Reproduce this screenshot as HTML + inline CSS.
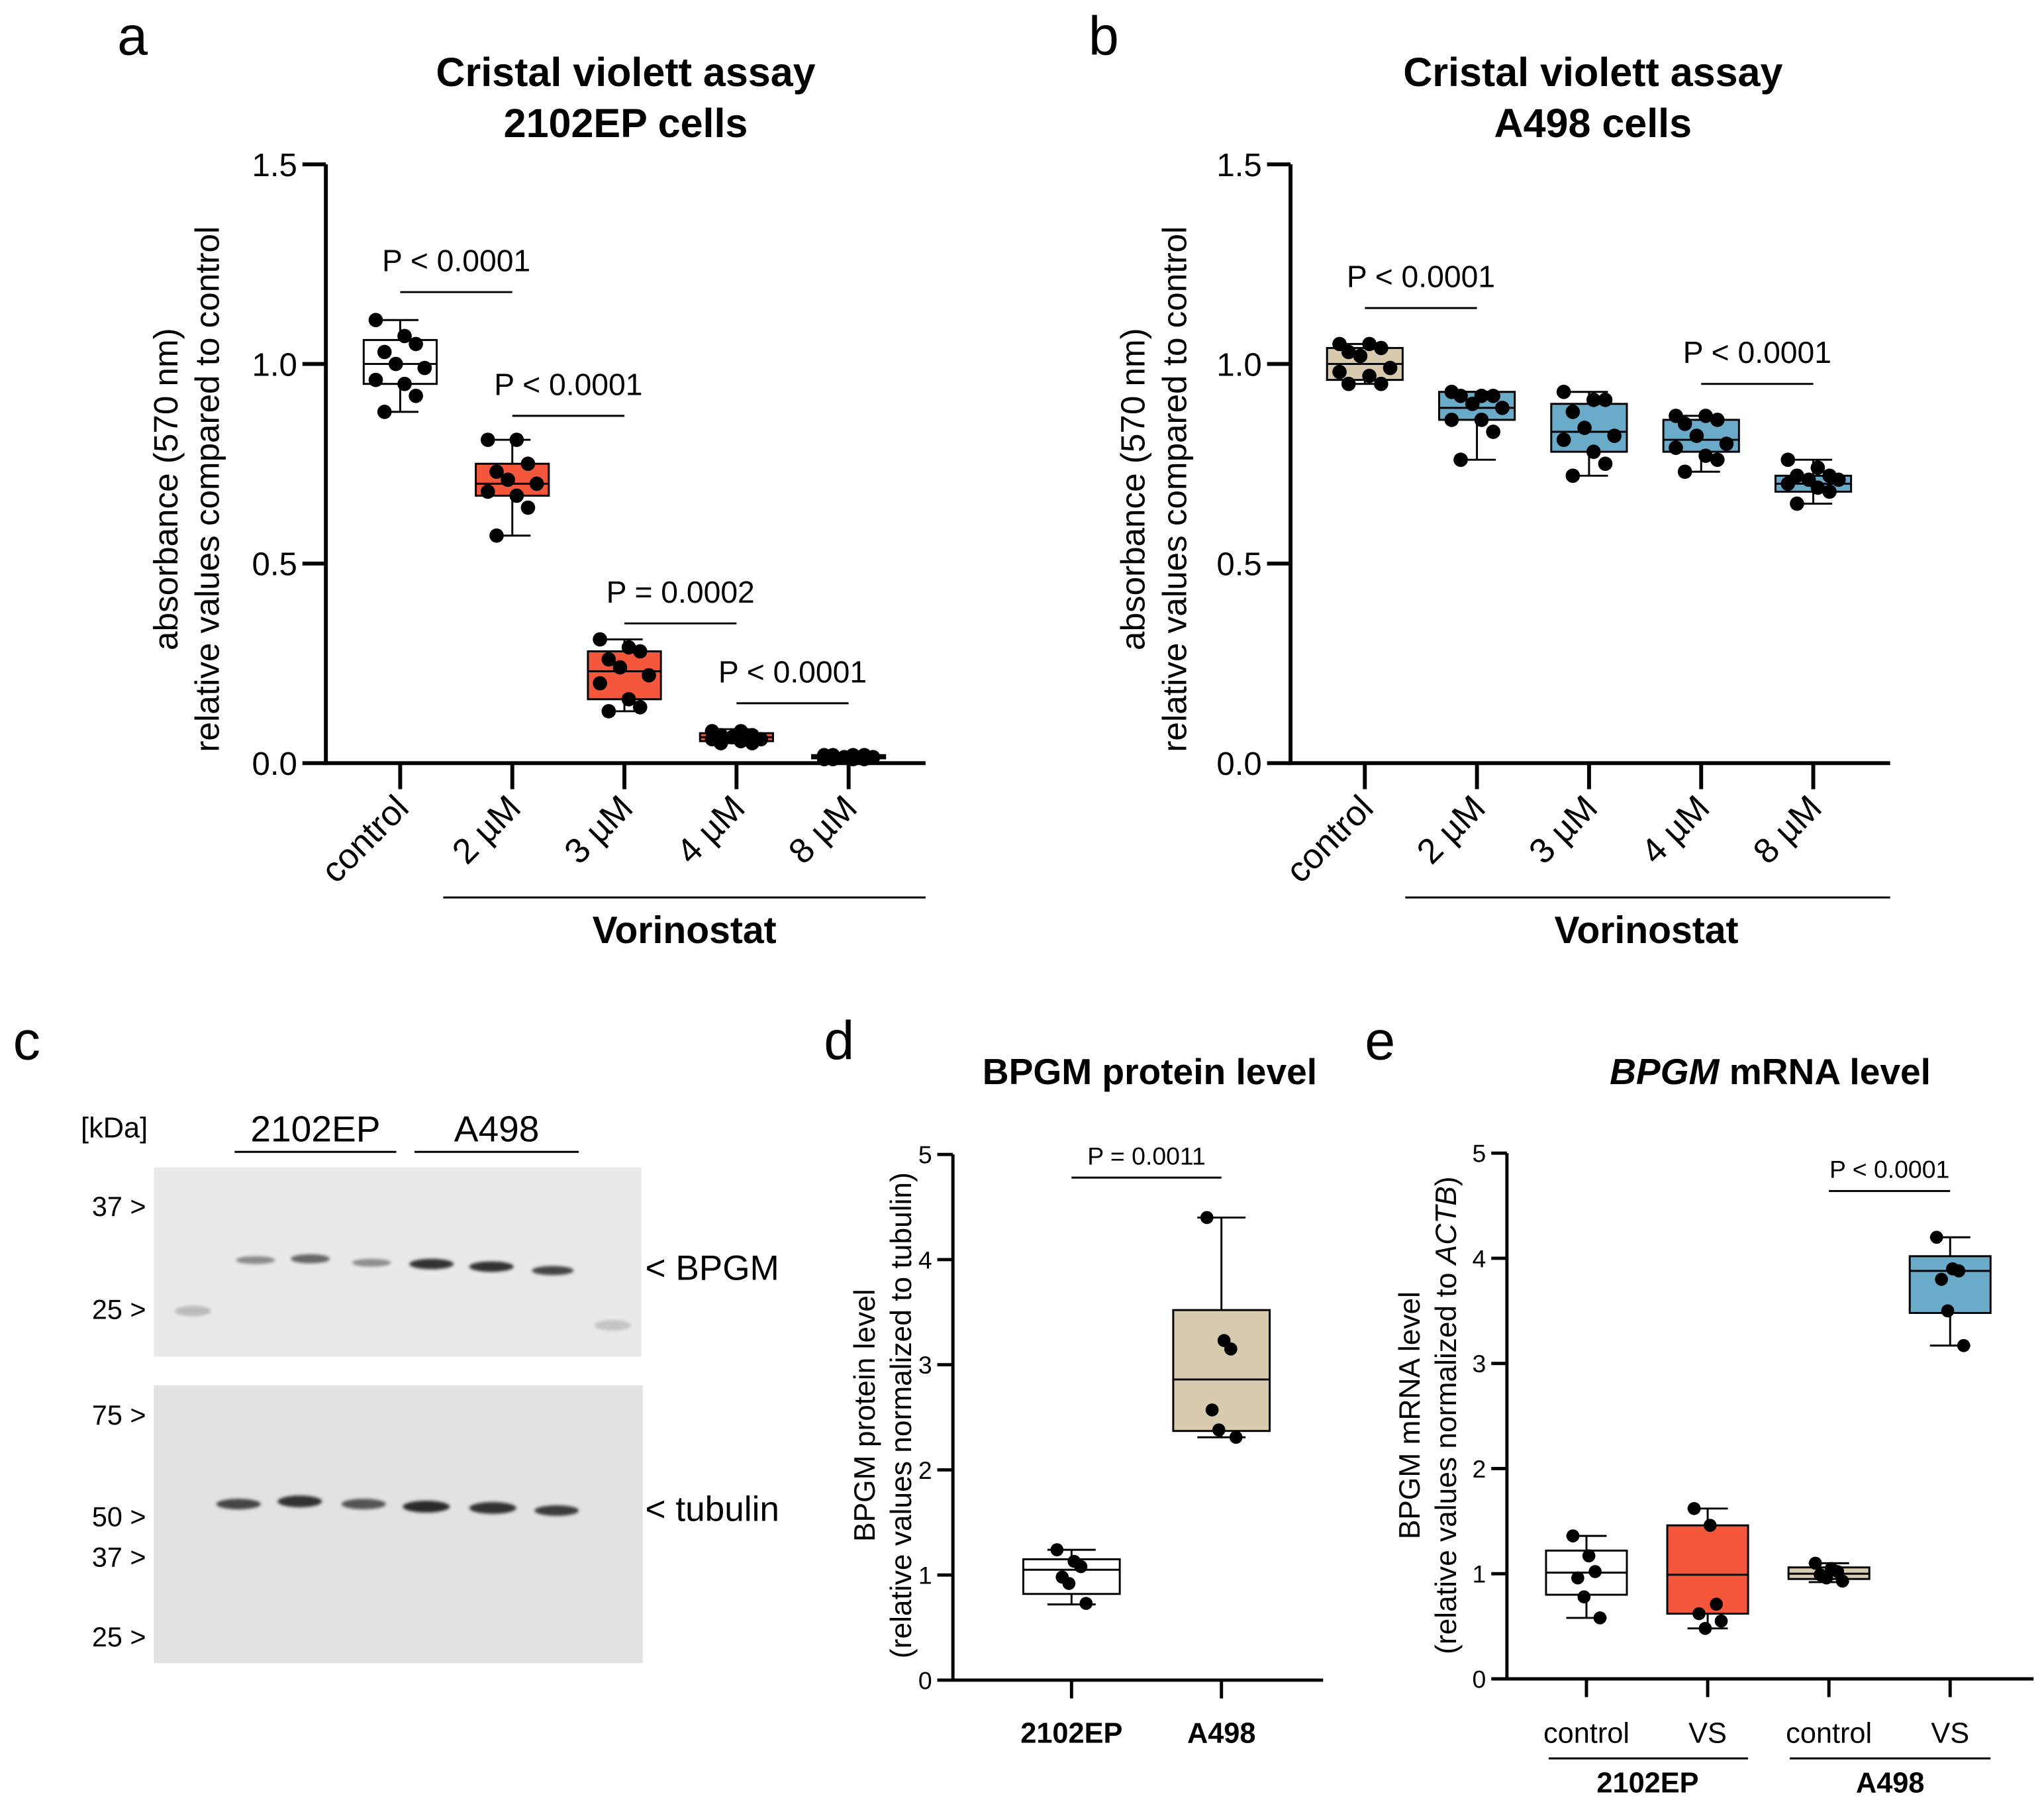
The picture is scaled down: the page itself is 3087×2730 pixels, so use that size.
<!DOCTYPE html>
<html><head><meta charset="utf-8"><style>
html,body{margin:0;padding:0;background:#fff;}
svg{display:block;font-family:"Liberation Sans",Arial,sans-serif;}
</style></head><body>
<svg id="fig" width="3087" height="2730" viewBox="0 0 1568 1386" preserveAspectRatio="none" xmlns="http://www.w3.org/2000/svg">
<rect width="1568" height="1386" fill="#fff"/>
<g id="static" font-family="Liberation Sans, Arial, sans-serif">
<text x="90" y="42" font-size="42">a</text>
<text x="835" y="42" font-size="42">b</text>
<text x="10" y="812" font-size="42">c</text>
<text x="632" y="812" font-size="42">d</text>
<text x="1047" y="812" font-size="42">e</text>
<g font-weight="bold" font-size="31" text-anchor="middle"><text x="480" y="66">Cristal violett assay</text><text x="480" y="105">2102EP cells</text></g>
<g font-weight="bold" font-size="31" text-anchor="middle"><text x="1222" y="66">Cristal violett assay</text><text x="1222" y="105">A498 cells</text></g>
<g font-size="26" text-anchor="middle" transform="translate(136,375) rotate(-90)"><text x="0" y="0">absorbance (570 nm)</text><text x="0" y="32">relative values compared to control</text></g>
<g font-size="26" text-anchor="middle" transform="translate(878,375) rotate(-90)"><text x="0" y="0">absorbance (570 nm)</text><text x="0" y="32">relative values compared to control</text></g>
<g><line x1="340" y1="688" x2="710" y2="688" stroke="#000" stroke-width="1.5"/><text x="525" y="723" font-size="29" font-weight="bold" text-anchor="middle">Vorinostat</text></g>
<g><line x1="1078" y1="688" x2="1450" y2="688" stroke="#000" stroke-width="1.5"/><text x="1263" y="723" font-size="29" font-weight="bold" text-anchor="middle">Vorinostat</text></g>

<g font-size="22">
<text x="62" y="872">[kDa]</text>
<text x="242" y="875" font-size="28" text-anchor="middle">2102EP</text>
<line x1="180" y1="883" x2="304" y2="883" stroke="#000" stroke-width="1.5"/>
<text x="381" y="875" font-size="28" text-anchor="middle">A498</text>
<line x1="318" y1="883" x2="444" y2="883" stroke="#000" stroke-width="1.5"/>
<rect x="118" y="895" width="374" height="145" fill="#e9e9e9"/>
<rect x="118" y="1062" width="375" height="213" fill="#e2e2e2"/>
<g text-anchor="end" font-size="21"><text x="112" y="932">37 &gt;</text><text x="112" y="1011">25 &gt;</text><text x="112" y="1092">75 &gt;</text><text x="112" y="1170">50 &gt;</text><text x="112" y="1201">37 &gt;</text><text x="112" y="1262">25 &gt;</text></g>
<text x="495" y="981" font-size="27">&lt; BPGM</text>
<text x="495" y="1166" font-size="27">&lt; tubulin</text>
<g filter="url(#blur)">
<ellipse cx="148" cy="1005" rx="14" ry="4" fill="#bbb"/><ellipse cx="470" cy="1016" rx="14" ry="4" fill="#c4c4c4"/>
<ellipse cx="196" cy="966" rx="15" ry="3" fill="#8a8a8a"/><ellipse cx="238" cy="965" rx="15" ry="3.5" fill="#666"/><ellipse cx="285" cy="968" rx="15" ry="3" fill="#8e8e8e"/>
<ellipse cx="331" cy="969" rx="17" ry="4" fill="#333"/><ellipse cx="377" cy="971" rx="17" ry="4" fill="#333"/><ellipse cx="424" cy="974" rx="16" ry="3.5" fill="#444"/>
<ellipse cx="183" cy="1153" rx="17" ry="4" fill="#444"/><ellipse cx="230" cy="1151" rx="17" ry="4.5" fill="#333"/><ellipse cx="279" cy="1153" rx="17" ry="4" fill="#555"/>
<ellipse cx="327" cy="1155" rx="18" ry="4.5" fill="#2a2a2a"/><ellipse cx="378" cy="1156" rx="18" ry="4.5" fill="#333"/><ellipse cx="427" cy="1158" rx="17" ry="4" fill="#3a3a3a"/>
</g>
</g>
<defs><filter id="blur"><feGaussianBlur stdDeviation="1.2"/></filter></defs>

<text x="882" y="831" font-size="28" font-weight="bold" text-anchor="middle">BPGM protein level</text>
<text x="1358" y="831" font-size="28" font-weight="bold" text-anchor="middle"><tspan font-style="italic">BPGM</tspan> mRNA level</text>
<g font-size="22.5" text-anchor="middle" transform="translate(671,1085) rotate(-90)"><text x="0" y="0">BPGM protein level</text><text x="0" y="28">(relative values normalized to tubulin)</text></g>
<g font-size="22.5" text-anchor="middle" transform="translate(1089,1085) rotate(-90)"><text x="0" y="0">BPGM mRNA level</text><text x="0" y="28">(relative values normalized to <tspan font-style="italic">ACTB</tspan>)</text></g>
<g font-size="22" text-anchor="middle">
<line x1="1188" y1="1348" x2="1341" y2="1348" stroke="#000" stroke-width="1.5"/>
<line x1="1373" y1="1348" x2="1527" y2="1348" stroke="#000" stroke-width="1.5"/>
<text x="1264" y="1374" font-weight="bold">2102EP</text><text x="1450" y="1374" font-weight="bold">A498</text></g>
</g>
<g id="charts"></g>
</svg>
<script>
// ---- Panel a data ----
const aCategories = ["control","2 µM","3 µM","4 µM","8 µM"];
const aWhiskerLow = [0.88,0.57,0.13,0.05,0.01];
const aQ1 = [0.95,0.67,0.16,0.055,0.012];
const aMedian = [1.0,0.70,0.23,0.065,0.015];
const aQ3 = [1.06,0.75,0.28,0.075,0.02];
const aWhiskerHigh = [1.11,0.81,0.31,0.085,0.025];
const aPoints = [
 [1.11,1.07,1.05,1.03,1.0,0.99,0.96,0.95,0.92,0.88],
 [0.81,0.81,0.75,0.73,0.71,0.70,0.68,0.67,0.64,0.57],
 [0.31,0.29,0.28,0.26,0.24,0.22,0.20,0.16,0.14,0.13],
 [0.08,0.08,0.07,0.07,0.065,0.06,0.06,0.055,0.05,0.05],
 [0.02,0.02,0.02,0.02,0.015,0.015,0.01,0.01,0.01,0.01]];
const aYTicks = [0,0.5,1.0,1.5];
const aTickLabels = ["0.0","0.5","1.0","1.5"];
const aPvals = ["P < 0.0001","P < 0.0001","P = 0.0002","P < 0.0001"];
const aPFrom = [0,1,2,3];
const aPTo = [1,2,3,4];
const aPLevel = [1.18,0.87,0.35,0.15];
// ---- Panel b data ----
const bCategories = ["control","2 µM","3 µM","4 µM","8 µM"];
const bWhiskerLow = [0.95,0.76,0.72,0.73,0.65];
const bQ1 = [0.96,0.86,0.78,0.78,0.68];
const bMedian = [1.0,0.89,0.83,0.81,0.70];
const bQ3 = [1.04,0.93,0.90,0.86,0.72];
const bWhiskerHigh = [1.05,0.93,0.93,0.87,0.76];
const bPoints = [
 [1.05,1.05,1.04,1.03,1.02,0.99,0.98,0.97,0.95,0.95],
 [0.93,0.92,0.92,0.92,0.90,0.89,0.86,0.86,0.83,0.76],
 [0.93,0.91,0.91,0.88,0.84,0.82,0.81,0.78,0.75,0.72],
 [0.87,0.87,0.86,0.85,0.82,0.80,0.79,0.77,0.76,0.73],
 [0.76,0.74,0.72,0.72,0.71,0.71,0.70,0.69,0.68,0.65]];
const bPvals = ["P < 0.0001","P < 0.0001"];
const bPFrom = [0,3];
const bPTo = [1,4];
const bPLevel = [1.14,0.95];
// ---- Panel d data ----
const dCategories = ["2102EP","A498"];
const dWhiskerLow = [0.72,2.31];
const dQ1 = [0.82,2.37];
const dMedian = [1.05,2.86];
const dQ3 = [1.15,3.52];
const dWhiskerHigh = [1.24,4.40];
const dPoints = [[1.24,1.13,1.08,0.98,0.92,0.73],[4.40,3.23,3.15,2.57,2.38,2.31]];
const dYTicks = [0,1,2,3,4,5];
const dPvals = ["P = 0.0011"];
// ---- Panel e data ----
const eCategories = ["control","VS","control","VS"];
const eWhiskerLow = [0.58,0.48,0.92,3.17];
const eQ1 = [0.80,0.62,0.95,3.48];
const eMedian = [1.01,0.99,1.0,3.88];
const eQ3 = [1.22,1.46,1.06,4.02];
const eWhiskerHigh = [1.36,1.62,1.10,4.20];
const ePoints = [[1.36,1.17,1.02,0.96,0.78,0.58],[1.62,1.46,0.71,0.62,0.48,0.55],[1.10,1.05,1.02,0.99,0.96,0.93],[4.20,3.90,3.88,3.80,3.50,3.17]];
const ePvals = ["P < 0.0001"];

const RED="#f4573b", TAN="#d7caae", BLUE="#6aabc9";
const NS="http://www.w3.org/2000/svg";
const root=document.getElementById('charts');
function mk(tag,attrs,parent){const e=document.createElementNS(NS,tag);for(const k in attrs)e.setAttribute(k,attrs[k]);(parent||root).appendChild(e);return e;}

function drawChart(cfg){
  const g=mk('g',{});
  
  
  const y=v=>cfg.y0+(cfg.y1-cfg.y0)*(v-cfg.vmin)/(cfg.vmax-cfg.vmin);
  const x=i=>cfg.xs+i*cfg.step;
  const sw=cfg.sw;
  const ax=mk('path',{d:`M${cfg.ax} ${y(cfg.vmax)} V${cfg.y0} H${cfg.axEnd}`,stroke:'#000','stroke-width':sw,fill:'none'},g);
  
  
  cfg.ticks.forEach((t,i)=>{
    mk('line',{x1:cfg.ax-cfg.tl,x2:cfg.ax,y1:y(t),y2:y(t),stroke:'#000','stroke-width':sw},g);
    const tx=mk('text',{x:cfg.ax-cfg.tl-4,y:y(t)+cfg.tfs*0.36,'font-size':cfg.tfs,'text-anchor':'end'},g);
    tx.textContent=cfg.tickLabels[i];
    
    
  });
  cfg.cats.forEach((c,i)=>{
    const cx=x(i);
    mk('line',{x1:cx,x2:cx,y1:cfg.y0,y2:cfg.y0+cfg.tl+2,stroke:'#000','stroke-width':sw},g);
    const bx=mk('g',{},g);
    
    
    const hw=cfg.bw/2;
    mk('line',{x1:cx,x2:cx,y1:y(cfg.wl[i]),y2:y(cfg.wh[i]),stroke:'#000','stroke-width':1.5},bx);
    mk('line',{x1:cx-hw/2,x2:cx+hw/2,y1:y(cfg.wl[i]),y2:y(cfg.wl[i]),stroke:'#000','stroke-width':1.5},bx);
    mk('line',{x1:cx-hw/2,x2:cx+hw/2,y1:y(cfg.wh[i]),y2:y(cfg.wh[i]),stroke:'#000','stroke-width':1.5},bx);
    mk('rect',{x:cx-hw,y:y(cfg.q3[i]),width:cfg.bw,height:Math.max(1,y(cfg.q1[i])-y(cfg.q3[i])),fill:cfg.colors[i],stroke:'#000','stroke-width':1.5},bx);
    mk('line',{x1:cx-hw,x2:cx+hw,y1:y(cfg.med[i]),y2:y(cfg.med[i]),stroke:'#000','stroke-width':1.5},bx);
    cfg.pts[i].forEach((v,j)=>{
      const off=(((j%3)-1)*hw*0.55 + (j%2?hw*0.12:-hw*0.12))*cfg.jit;
      const d=mk('circle',{cx:cx+off,cy:y(v),r:cfg.r,fill:'#000'},bx);
      
      
    });
    const lt=cfg.rot?mk('text',{transform:`translate(${cx+8},${cfg.y0+cfg.tl+18}) rotate(-45)`,'font-size':cfg.xfs,'text-anchor':'end'},g)
                   :mk('text',{x:cx,y:cfg.lblY,'font-size':cfg.xfs,'text-anchor':'middle','font-weight':cfg.xbold?'bold':'normal'},g);
    lt.textContent=c;
    
    
  });
  cfg.pv.forEach((p,k)=>{
    const x1=x(cfg.pf[k]),x2=x(cfg.pt[k]),ly=y(cfg.pl[k]);
    const pg=mk('g',{},g);
    
    
    mk('line',{x1:x1,x2:x2,y1:ly,y2:ly,stroke:'#000','stroke-width':1.5},pg);
    const t=mk('text',{x:(x1+x2)/2,y:ly-cfg.pgap,'font-size':cfg.pfs,'text-anchor':'middle'},pg);
    t.textContent=p;
  });
}
drawChart({name:'chart-a',vmin:0,vmax:1.5,y0:585,y1:126,ax:250,axEnd:710,xs:307,step:86,ticks:aYTicks,tickLabels:aTickLabels,tl:18,tfs:25,sw:3,
 cats:aCategories,wl:aWhiskerLow,q1:aQ1,med:aMedian,q3:aQ3,wh:aWhiskerHigh,pts:aPoints,bw:56,r:5.5,jit:1,colors:["#fff",RED,RED,RED,RED],
 rot:true,xfs:27,pv:aPvals,pf:aPFrom,pt:aPTo,pl:aPLevel,pgap:16,pfs:23.5});
drawChart({name:'chart-b',vmin:0,vmax:1.5,y0:585,y1:126,ax:990,axEnd:1450,xs:1047,step:86,ticks:aYTicks,tickLabels:aTickLabels,tl:18,tfs:25,sw:3,
 cats:bCategories,wl:bWhiskerLow,q1:bQ1,med:bMedian,q3:bQ3,wh:bWhiskerHigh,pts:bPoints,bw:58,r:5.5,jit:1,colors:[TAN,BLUE,BLUE,BLUE,BLUE],
 rot:true,xfs:27,pv:bPvals,pf:bPFrom,pt:bPTo,pl:bPLevel,pgap:16,pfs:23.5});
drawChart({name:'chart-d',vmin:0,vmax:5,y0:1288,y1:885,ax:731,axEnd:1015,xs:822,step:115,ticks:dYTicks,tickLabels:dYTicks.map(String),tl:12,tfs:19,sw:2.5,
 cats:dCategories,wl:dWhiskerLow,q1:dQ1,med:dMedian,q3:dQ3,wh:dWhiskerHigh,pts:dPoints,bw:74,r:5,jit:0.45,colors:["#fff",TAN],
 rot:false,lblY:1336,xfs:22,xbold:true,pv:dPvals,pf:[0],pt:[1],pl:[4.78],pgap:10,pfs:19});
drawChart({name:'chart-e',vmin:0,vmax:5,y0:1287,y1:884,ax:1156,axEnd:1560,xs:1217,step:93,ticks:dYTicks,tickLabels:dYTicks.map(String),tl:12,tfs:19,sw:2.5,
 cats:eCategories,wl:eWhiskerLow,q1:eQ1,med:eMedian,q3:eQ3,wh:eWhiskerHigh,pts:ePoints,bw:62,r:5,jit:0.5,colors:["#fff",RED,TAN,BLUE],
 rot:false,lblY:1336,xfs:22,xbold:false,pv:ePvals,pf:[2],pt:[3],pl:[4.64],pgap:10,pfs:19});
</script>
</body></html>
